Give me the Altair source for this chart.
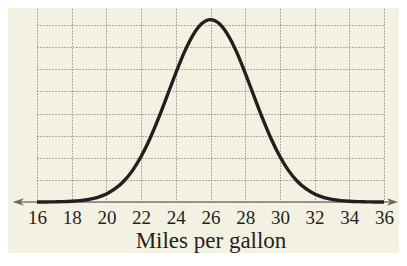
import altair as alt
import pandas as pd

# values
mpg = [16, 16.5, 17, 17.5, 18, 18.5, 19, 19.5, 20, 20.5, 21, 21.5, 22, 22.5, 23, 23.5,
       24, 24.5, 25, 25.5, 26, 26.5, 27, 27.5, 28, 28.5, 29, 29.5, 30, 30.5, 31, 31.5,
       32, 32.5, 33, 33.5, 34, 34.5, 35, 35.5, 36]
height = [0.001, 0.003, 0.007, 0.016, 0.032, 0.062, 0.117, 0.21, 0.36, 0.60, 0.94, 1.42,
          2.06, 2.85, 3.78, 4.80, 5.83, 6.79, 7.56, 8.07, 8.25, 8.07, 7.56, 6.79, 5.83, 4.80,
          3.78, 2.85, 2.06, 1.42, 0.94, 0.60, 0.36, 0.21, 0.117, 0.062, 0.032, 0.016, 0.007,
          0.003, 0.001]
x_ticks = [16, 18, 20, 22, 24, 26, 28, 30, 32, 34, 36]
y_grid = [0, 1, 2, 3, 4, 5, 6, 7, 8, 9]
axis_line_x = [14.75]
axis_line_x2 = [36.6]
arrow_left_x = [14.92]
arrow_right_x = [36.49]

BG = "#f3f1e2"
INK = "#231f20"
SERIF = "Liberation Serif"

curve_df = pd.DataFrame({"mpg": mpg, "h": height})
rule_df = pd.DataFrame({"x": axis_line_x, "x2": axis_line_x2, "y": [0]})
left_df = pd.DataFrame({"x": arrow_left_x, "y": [0]})
right_df = pd.DataFrame({"x": arrow_right_x, "y": [0]})

xscale = alt.Scale(domain=[16, 36], nice=False, zero=False)
yscale = alt.Scale(domain=[0, 9], nice=False, zero=False)

xaxis = alt.Axis(
    values=x_ticks, title="Miles per gallon", grid=True, ticks=False, tickSize=0,
    domain=False, labelFont=SERIF, labelFontSize=19, labelColor=INK, labelPadding=6,
    labelFlush=False, labelOverlap=False, titleFont=SERIF, titleFontSize=23,
    titleFontWeight="normal", titleColor=INK, titleY=45.5, titleBaseline="alphabetic",
    gridColor="#666666", gridDash=[1, 2], gridWidth=1, gridOpacity=1)
yaxis = alt.Axis(
    values=y_grid, title=None, labels=False, ticks=False, domain=False, grid=True,
    gridColor="#666666", gridDash=[1, 2], gridWidth=1, gridOpacity=1)

curve = alt.Chart(curve_df).mark_line(
    color=INK, strokeWidth=3.4, interpolate="monotone", strokeCap="butt"
).encode(
    x=alt.X("mpg:Q", scale=xscale, axis=xaxis),
    y=alt.Y("h:Q", scale=yscale, axis=yaxis),
)

axis_line = alt.Chart(rule_df).mark_rule(color="#7a7a7a", strokeWidth=1.6).encode(
    x=alt.X("x:Q", scale=xscale, axis=xaxis), x2="x2:Q",
    y=alt.Y("y:Q", scale=yscale, axis=yaxis)
)

left_arrow = alt.Chart(left_df).mark_point(
    shape="M-1,0 L1,-0.7 L0.45,0 L1,0.7 Z", size=121, filled=True, color="#6a6a6a", opacity=1
).encode(x=alt.X("x:Q", scale=xscale, axis=xaxis), y=alt.Y("y:Q", scale=yscale, axis=yaxis))

right_arrow = alt.Chart(right_df).mark_point(
    shape="M1,0 L-1,-0.7 L-0.45,0 L-1,0.7 Z", size=121, filled=True, color="#6a6a6a", opacity=1
).encode(x=alt.X("x:Q", scale=xscale, axis=xaxis), y=alt.Y("y:Q", scale=yscale, axis=yaxis))

chart = alt.layer(axis_line, curve, left_arrow, right_arrow).properties(
    width=347, height=199,
    autosize=alt.AutoSizeParams(type="none"),
    padding={"left": 29, "top": -5, "right": 15, "bottom": 51},
    background=BG,
).configure_view(stroke=None)

chart.save("out.html", embed_options={"renderer": "svg", "actions": False})
